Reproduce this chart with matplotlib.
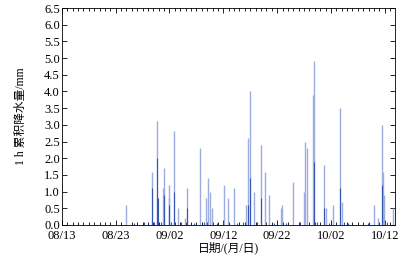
import numpy as np
import pandas as pd
import matplotlib
matplotlib.use("Agg")
import matplotlib.pyplot as plt
import matplotlib.dates as mdates
from matplotlib.ticker import MultipleLocator

# hourly accumulated precipitation (mm)
times = ["08-24 20", "08-29 19", "08-30 17", "08-31 20", "09-01 00", "09-01 20",
         "09-01 23", "09-02 20", "09-03 12", "09-04 21", "09-05 04", "09-07 18",
         "09-08 20", "09-09 05", "09-09 12", "09-09 20", "09-12 03", "09-12 23",
         "09-13 22", "09-16 03", "09-16 15", "09-17 00", "09-17 18", "09-19 01",
         "09-19 18", "09-20 13", "09-22 16", "09-22 23", "09-24 21", "09-26 23",
         "09-27 03", "09-27 12", "09-28 17", "09-28 22", "09-30 18", "10-01 03",
         "10-02 10", "10-03 18", "10-04 00", "10-10 00", "10-10 16", "10-11 10",
         "10-11 14", "10-11 22", "10-13 11"]
rain = [0.6, 1.6, 3.1, 1.1, 1.7, 1.2,
        0.8, 2.8, 0.5, 0.2, 1.1, 2.3,
        0.8, 1.4, 1.0, 0.5, 1.2, 0.8,
        1.1, 0.6, 2.6, 4.0, 1.0, 2.4,
        1.6, 0.9, 0.5, 0.6, 1.3, 1.0,
        2.5, 2.3, 3.9, 4.9, 1.8, 0.5,
        0.6, 3.5, 0.7, 0.6, 0.2, 3.0,
        1.6, 0.9, 0.5]

# overlapping darker parts
dark_times = ["08-29 19", "08-30 18", "08-30 20", "09-01 00", "09-01 22", "09-02 20",
              "09-05 04", "09-16 15", "09-17 00", "09-19 01", "09-28 22", "09-30 18",
              "10-03 18", "10-11 10"]
dark_rain = [1.1, 2.0, 0.8, 0.9, 0.6, 1.0,
             0.5, 0.6, 1.4, 0.8, 1.9, 0.5,
             1.1, 1.2]

# small drizzle values near zero
tiny_times = ["08-26 10", "08-28 06", "08-30 02", "08-31 08", "09-02 05", "09-04 02",
              "09-06 14", "09-08 08", "09-10 20", "09-14 12", "09-15 18", "09-18 06",
              "09-21 09", "09-23 15", "09-26 04", "09-29 10", "10-01 15", "10-04 12",
              "10-05 06", "10-08 20", "10-12 08"]
tiny_rain = [0.05, 0.08, 0.1, 0.1, 0.08, 0.1,
             0.05, 0.1, 0.06, 0.05, 0.08, 0.1,
             0.06, 0.05, 0.1, 0.1, 0.06, 0.1,
             0.05, 0.05, 0.1]

def to_dt(lst):
    return pd.to_datetime(["2021-" + s for s in lst], format="%Y-%m-%d %H")

light_c = "#9eade0"
dark_c = "#3556b0"

fig = plt.figure(figsize=(4.15, 2.6), dpi=100)
ax = fig.add_axes([0.149, 0.135, 0.803, 0.834])

ax.vlines(to_dt(times), 0, rain, color=light_c, lw=1.0)
ax.vlines(to_dt(tiny_times), 0, tiny_rain, color=dark_c, lw=0.8)
ax.vlines(to_dt(dark_times), 0, dark_rain, color=dark_c, lw=0.8)

ax.set_xlim(pd.Timestamp("2021-08-13"), pd.Timestamp("2021-10-13 22:00"))
ax.set_ylim(0, 6.5)

ticks = pd.date_range("2021-08-13", periods=7, freq="10D")
ax.set_xticks(ticks)
ax.xaxis.set_major_formatter(mdates.DateFormatter("%m/%d"))
ax.xaxis.set_minor_locator(mdates.DayLocator())
ax.yaxis.set_major_locator(MultipleLocator(0.5))
ax.yaxis.set_major_formatter(matplotlib.ticker.FormatStrFormatter("%.1f"))

ax.tick_params(which="both", direction="in", top=True, right=True,
               labelsize=9, width=0.6, pad=1.5)
ax.tick_params(axis="x", which="major", pad=3.5)
ax.tick_params(which="major", length=3.5)
ax.tick_params(which="minor", length=2)
for lab in ax.get_xticklabels() + ax.get_yticklabels():
    lab.set_family("Liberation Serif")
for sp in ax.spines.values():
    sp.set_linewidth(0.6)

fam = ["Liberation Serif", "Noto Sans CJK SC"]
ax.set_ylabel("1 h 累积降水量/mm", family=fam, fontsize=8.5)
ax.yaxis.set_label_coords(-0.105, 0.5)
ax.set_xlabel("日期/(月/日)", family=fam, fontsize=8.5, labelpad=0)

fig.savefig("out.png", dpi=100)
